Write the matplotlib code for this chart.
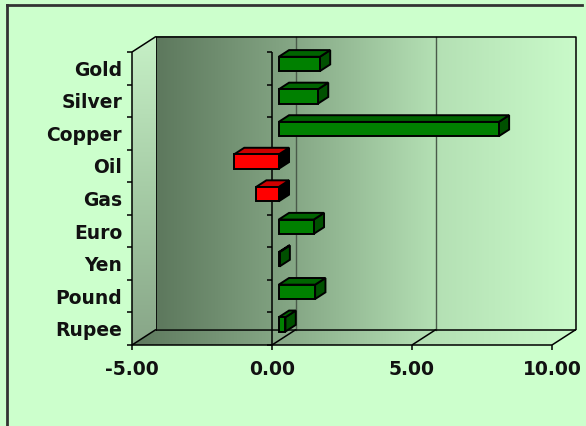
import numpy as np
import matplotlib
matplotlib.use("Agg")
import matplotlib.pyplot as plt
from matplotlib.patches import Polygon
from matplotlib.colors import LinearSegmentedColormap

# data, top to bottom as in the chart
categories = ["Gold", "Silver", "Copper", "Oil", "Gas", "Euro", "Yen", "Pound", "Rupee"]
values = [1.47, 1.40, 7.86, -1.60, -0.81, 1.25, 0.03, 1.30, 0.24]
xticks = [-5, 0, 5, 10]
xtick_labels = ["-5.00", "0.00", "5.00", "10.00"]

W, H, DPI = 586, 427, 100
BG = "#ccffcc"

# pixel scale of the front plane
px_x = 28.0          # px per value unit
px_y = 293.0 / 9     # px per category
x0_px, y0_px = 132, 346   # pixel of (-5, bottom)

# depth of the 3d box in data units
DX = 24 / px_x
DY = 15.5 / px_y
F1, F2 = 0.28, 0.71      # bar depth span (fraction of full depth)
BAR_H = 0.44

xmin, xmax = xticks[0], xticks[-1]
n = len(categories)

fig = plt.figure(figsize=(W / DPI, H / DPI), dpi=DPI, facecolor=BG)
ax = fig.add_axes([0, 0, 1, 1])
ax.set_xlim(xmin - x0_px / px_x, xmin + (W - x0_px) / px_x)
ax.set_ylim(-(H - y0_px) / px_y, -(H - y0_px) / px_y + H / px_y)
ax.axis("off")

wall = LinearSegmentedColormap.from_list("wall", ["#5d785d", "#86a886", "#b4e0b4", "#c9fac9"])
side = LinearSegmentedColormap.from_list("side", ["#87a587", "#a6cca6", "#c6f0c6"])

# back wall
grad = np.linspace(0, 1, 256).reshape(1, -1)
ax.imshow(grad, cmap=wall, extent=[xmin + DX, xmax + DX, DY, n + DY],
          aspect="auto", zorder=1, interpolation="bilinear")

# floor (same horizontal gradient, clipped)
floor = Polygon([(xmin, 0), (xmax, 0), (xmax + DX, DY), (xmin + DX, DY)],
                closed=True, fc="none", ec="none")
ax.add_patch(floor)
im = ax.imshow(grad, cmap=wall, extent=[xmin, xmax + DX, 0, DY],
               aspect="auto", zorder=1, interpolation="bilinear")
im.set_clip_path(floor)

# left side wall, vertical gradient
sw = Polygon([(xmin, 0), (xmin, n), (xmin + DX, n + DY), (xmin + DX, DY)],
             closed=True, fc="none", ec="none")
ax.add_patch(sw)
vgrad = np.linspace(0, 1, 256).reshape(-1, 1)
im2 = ax.imshow(vgrad, cmap=side, extent=[xmin, xmin + DX, 0, n + DY],
                origin="lower", aspect="auto", zorder=1, interpolation="bilinear")
im2.set_clip_path(sw)

lk = dict(color="black", lw=1.1, zorder=3, solid_capstyle="butt")
# back wall gridlines
for v in xticks[1:-1]:
    ax.plot([v + DX, v + DX], [DY, n + DY], color="#4a5a4a", lw=1.0, zorder=2)
# floor diagonals
for v in xticks:
    ax.plot([v, v + DX], [0, DY], **lk)
# box outline
ax.plot([xmin + DX, xmax + DX, xmax + DX], [n + DY, n + DY, DY], **lk)
ax.plot([xmin + DX, xmax + DX], [DY, DY], **lk)
ax.plot([xmin, xmin + DX], [n, n + DY], **lk)
ax.plot([xmin, xmax], [0, 0], **lk)
ax.plot([xmin, xmin], [0, n], **lk)
ax.plot([xmin + DX, xmin + DX], [DY, n + DY], color="black", lw=0.6, zorder=2)
# category axis at zero
ax.plot([0, 0], [0, n], **lk)
for k in range(n + 1):
    ax.plot([xmin - 5 / px_x, xmin], [k, k], **lk)
    ax.plot([-5 / px_x, 0], [k, k], **lk)
for v in xticks:
    ax.plot([v, v], [0, -5 / px_y], **lk)

# bars
for i, (cat, v) in enumerate(zip(categories, values)):
    yc = n - 1 - i + 0.5
    lo, hi = min(v, 0), max(v, 0)
    y1, y2 = yc - BAR_H / 2, yc + BAR_H / 2
    ox, oy = F1 * DX, F1 * DY
    d = (F2 - F1)
    ddx, ddy = d * DX, d * DY
    if v >= 0:
        cf, ct, cs = "#008000", "#006400", "#005000"
    else:
        cf, ct, cs = "#ff0000", "#cc0000", "#000000"
    front = [(lo + ox, y1 + oy), (hi + ox, y1 + oy), (hi + ox, y2 + oy), (lo + ox, y2 + oy)]
    top = [(lo + ox, y2 + oy), (hi + ox, y2 + oy), (hi + ox + ddx, y2 + oy + ddy), (lo + ox + ddx, y2 + oy + ddy)]
    rside = [(hi + ox, y1 + oy), (hi + ox + ddx, y1 + oy + ddy), (hi + ox + ddx, y2 + oy + ddy), (hi + ox, y2 + oy)]
    for pts, c in [(rside, cs), (top, ct), (front, cf)]:
        ax.add_patch(Polygon(pts, closed=True, fc=c, ec="black", lw=1.4, zorder=5, joinstyle="miter"))
    ax.text(xmin - 10 / px_x, yc - 0.03, cat, ha="right", va="center",
            fontsize=13.5, fontweight="bold", color="#111111", zorder=6)

for v, lab in zip(xticks, xtick_labels):
    ax.text(v, -14 / px_y, lab, ha="center", va="top",
            fontsize=13.5, fontweight="bold", color="#111111", zorder=6)

# chart area border (top and left edges visible)
fig.add_artist(plt.Line2D([7 / W, 7 / W], [0, 1 - 6 / H], transform=fig.transFigure,
                          color="#333333", lw=2))
fig.add_artist(plt.Line2D([7 / W, 582 / W], [1 - 6 / H, 1 - 6 / H], transform=fig.transFigure,
                          color="#333333", lw=2))

fig.savefig("out.png", dpi=DPI, facecolor=BG)
